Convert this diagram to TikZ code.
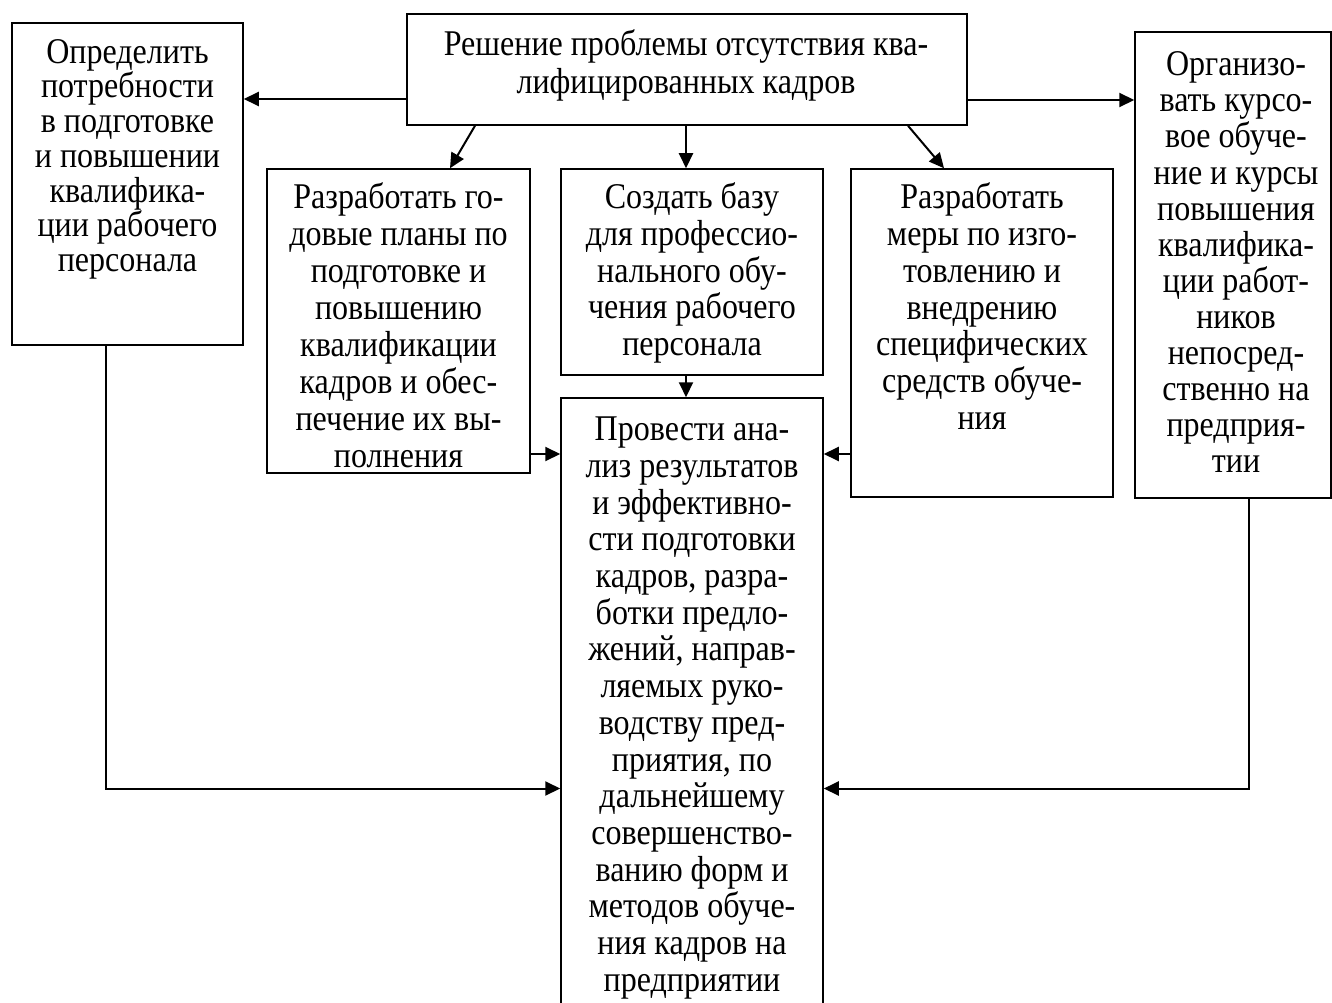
\documentclass[tikz,border=0pt]{standalone}
\usepackage{fontspec}
\setmainfont{Liberation Serif}
\newfontfamily\tallserif{Liberation Serif}[FakeStretch=0.885]
\usetikzlibrary{arrows.meta,calc}
\begin{document}
\begin{tikzpicture}[x=1pt,y=-1pt,
  box/.style={draw=black, line width=1.5pt, inner sep=0pt, rectangle},
  txt/.style={inner sep=0pt, align=center, font=\tallserif\fontsize{36.2}{36.7}\selectfont},
  arr/.style={line width=2pt, -{Triangle[length=15pt,width=14pt]}}]
\useasboundingbox[fill=white] (0,0) rectangle (1332,1003);
% boxes
\node[box, minimum width=231pt, minimum height=322pt] (A) at (127.5,184) {};
\node[box, minimum width=560pt, minimum height=111pt] (T) at (687,69.5) {};
\node[box, minimum width=263pt, minimum height=304pt] (B2) at (398.5,321) {};
\node[box, minimum width=262pt, minimum height=206pt] (B3) at (692,272) {};
\node[box, minimum width=262pt, minimum height=328pt] (B4) at (982,333) {};
\node[box, minimum width=196pt, minimum height=466pt] (R) at (1233,265) {};
\node[box, minimum width=262pt, minimum height=620pt] (M) at (692,708) {};
% texts
\node[txt, font=\tallserif\fontsize{36.2}{34.7}\selectfont] (tA) at (127.5,159.2) {Определить\\потребности\\в подготовке\\и повышении\\квалифика-\\ции рабочего\\персонала};
\node[txt, font=\tallserif\fontsize{36.2}{37.5}\selectfont] (tT) at (686,65.3) {Решение проблемы отсутствия ква-\\лифицированных кадров};
\node[txt, font=\tallserif\fontsize{36.2}{37.05}\selectfont] (tB2) at (398.5,325.4) {Разработать го-\\довые планы по\\подготовке и\\повышению\\квалификации\\кадров и обес-\\печение их вы-\\полнения};
\node[txt] (tB3) at (692,273) {Создать базу\\для профессио-\\нального обу-\\чения рабочего\\персонала};
\node[txt, font=\tallserif\fontsize{36.2}{36.8}\selectfont] (tB4) at (982,306.2) {Разработать\\меры по изго-\\товлению и\\внедрению\\специфических\\средств обуче-\\ния};
\node[txt, font=\tallserif\fontsize{36.2}{36.1}\selectfont] (tR) at (1236,262.3) {Организо-\\вать курсо-\\вое обуче-\\ние и курсы\\повышения\\квалифика-\\ции работ-\\ников\\непосред-\\ственно на\\предприя-\\тии};
\node[txt] (tM) at (692,708) {Провести ана-\\лиз результатов\\и эффективно-\\сти подготовки\\кадров, разра-\\ботки предло-\\жений, направ-\\ляемых руко-\\водству пред-\\приятия, по\\дальнейшему\\совершенство-\\ванию форм и\\методов обуче-\\ния кадров на\\предприятии};
% connectors
\coordinate (p1) at ([yshift=-29.5pt]T.west);
\draw[arr] (p1) -- (p1 -| A.east);
\coordinate (p2) at ([yshift=-30.5pt]T.east);
\draw[arr] (p2) -- (p2 -| R.west);
\draw[arr] ([xshift=-212pt]T.south) -- ([xshift=51.5pt]B2.north);
\coordinate (p3) at ([xshift=-1pt]T.south);
\draw[arr] (p3) -- (p3 |- B3.north);
\draw[arr] ([xshift=221pt]T.south) -- ([xshift=-38pt]B4.north);
\coordinate (p4) at ([xshift=-6pt]B3.south);
\draw[arr] (p4) -- (p4 |- M.north);
\coordinate (p5) at ([yshift=-133pt]B2.east);
\draw[arr] (p5) -- (p5 -| M.west);
\coordinate (p6) at ([yshift=-121pt]B4.west);
\draw[arr] (p6) -- (p6 -| M.east);
\coordinate (p7) at ([xshift=-21.5pt]A.south);
\coordinate (q7) at ([yshift=-80.5pt]M.west);
\draw[arr] (p7) |- (q7);
\coordinate (p8) at ([xshift=16pt]R.south);
\coordinate (q8) at ([yshift=-80.5pt]M.east);
\draw[arr] (p8) |- (q8);
\end{tikzpicture}
\end{document}
